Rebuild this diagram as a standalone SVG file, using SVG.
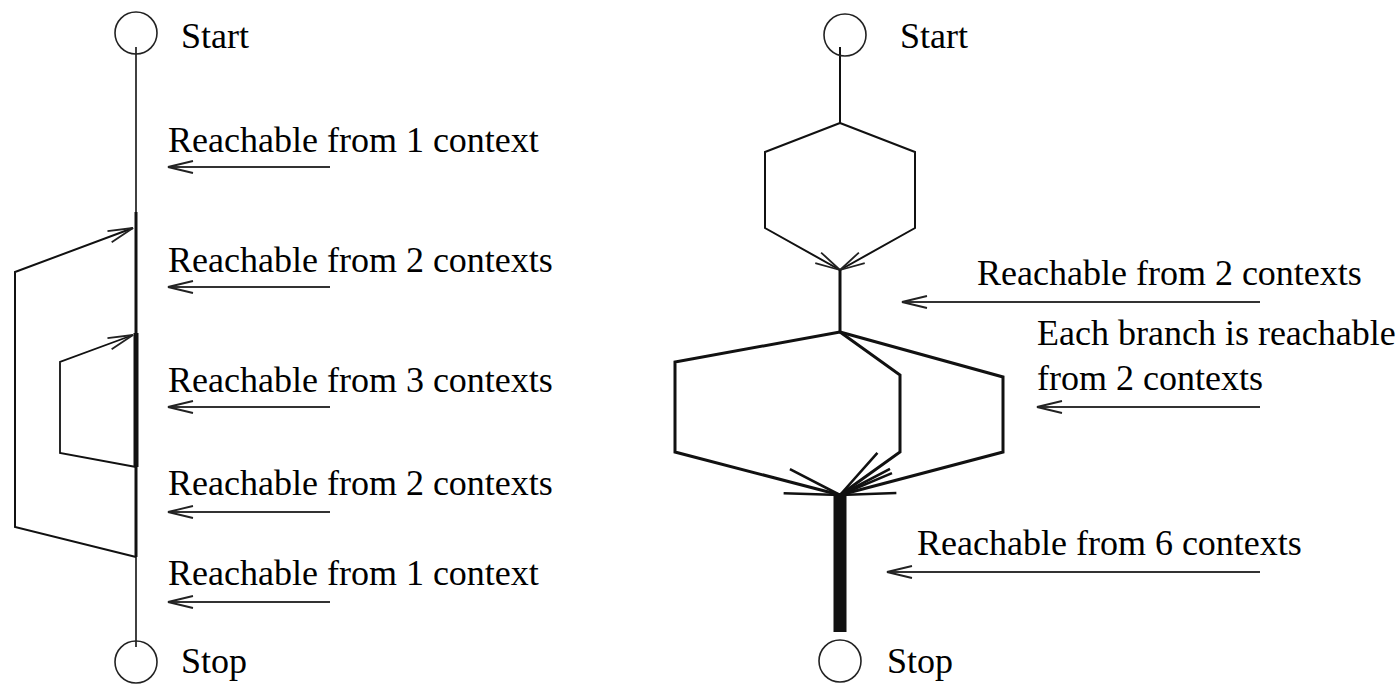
<svg xmlns="http://www.w3.org/2000/svg" width="1400" height="684" viewBox="0 0 1400 684">
<style>
text{font-family:"Liberation Serif","Times New Roman",serif;font-size:36px;fill:#000}
.node{fill:#fff;stroke:#222;stroke-width:1.6}
.ln{fill:none;stroke:#111;stroke-linejoin:miter;stroke-linecap:butt}
.lbl{fill:none;stroke:#333;stroke-width:2}
</style>
<defs>
<marker id="sa" markerUnits="userSpaceOnUse" orient="auto" overflow="visible" markerWidth="1" markerHeight="1" refX="0" refY="0">
<path d="M-25,-6 L0,0 L-25,6" fill="none" stroke="#222" stroke-width="1.8"/>
</marker>
<marker id="la" markerUnits="userSpaceOnUse" orient="auto" overflow="visible" markerWidth="1" markerHeight="1" refX="0" refY="0">
<path d="M-55,-12.5 L0,0 L-55,12.5" fill="none" stroke="#111" stroke-width="2.6"/>
</marker>
</defs>
<rect width="1400" height="684" fill="#fff"/>
<g id="connectors">
<line class="ln" x1="136" y1="47" x2="136" y2="212" stroke-width="1.6"/>
<line class="ln" x1="136" y1="212" x2="136" y2="333" stroke-width="3"/>
<line class="ln" x1="136" y1="333" x2="136" y2="467" stroke-width="5"/>
<line class="ln" x1="136" y1="467" x2="136" y2="557" stroke-width="3"/>
<line class="ln" x1="136" y1="557" x2="136" y2="647" stroke-width="1.6"/>
<polyline class="ln" points="136,557 15,527 15,272 133,228" stroke-width="2" marker-end="url(#sa)"/>
<polyline class="ln" points="136,467 60,453 60,362 133,335" stroke-width="1.8" marker-end="url(#sa)"/>
<line class="lbl" x1="330" y1="167" x2="168" y2="167" marker-end="url(#sa)"/>
<line class="lbl" x1="330" y1="287" x2="168" y2="287" marker-end="url(#sa)"/>
<line class="lbl" x1="330" y1="407" x2="168" y2="407" marker-end="url(#sa)"/>
<line class="lbl" x1="330" y1="512" x2="168" y2="512" marker-end="url(#sa)"/>
<line class="lbl" x1="330" y1="602" x2="168" y2="602" marker-end="url(#sa)"/>
<line class="ln" x1="840" y1="47" x2="840" y2="123" stroke-width="2"/>
<polyline class="ln" points="840,123 765,152 765,228 840,270" stroke-width="2" marker-end="url(#sa)"/>
<polyline class="ln" points="840,123 915,152 915,228 840,270" stroke-width="2" marker-end="url(#sa)"/>
<line class="ln" x1="840" y1="270" x2="840" y2="332" stroke-width="3"/>
<polyline class="ln" points="840,332 675,362 675,452 840,495" stroke-width="3" marker-end="url(#la)"/>
<polyline class="ln" points="840,332 900,375 900,452 840,495" stroke-width="3" marker-end="url(#la)"/>
<polyline class="ln" points="840,332 1003,377 1003,452 840,495" stroke-width="3" marker-end="url(#la)"/>
<line class="ln" x1="840" y1="494" x2="840" y2="632" stroke-width="13"/>
<line class="lbl" x1="1260" y1="302" x2="902" y2="302" marker-end="url(#sa)"/>
<line class="lbl" x1="1260" y1="407" x2="1037" y2="407" marker-end="url(#sa)"/>
<line class="lbl" x1="1260" y1="572" x2="887" y2="572" marker-end="url(#sa)"/>
</g>
<g id="left-start"><circle class="node" cx="136" cy="33" r="21" fill-opacity="0"/><text x="181" y="48">Start</text></g>
<g id="left-stop"><circle class="node" cx="136" cy="662" r="21" fill-opacity="0"/><text x="181" y="673">Stop</text></g>
<g id="right-start"><circle class="node" cx="845" cy="35" r="21" fill-opacity="0"/><text x="900" y="48">Start</text></g>
<g id="right-stop"><circle class="node" cx="840" cy="661" r="21" fill-opacity="0"/><text x="887" y="673">Stop</text></g>
<g id="left-labels">
<text x="168" y="152">Reachable from 1 context</text>
<text x="168" y="272">Reachable from 2 contexts</text>
<text x="168" y="392">Reachable from 3 contexts</text>
<text x="168" y="495">Reachable from 2 contexts</text>
<text x="168" y="585">Reachable from 1 context</text>
</g>
<g id="right-labels">
<text x="977" y="285">Reachable from 2 contexts</text>
<text x="1037" y="345">Each branch is reachable</text>
<text x="1037" y="390">from 2 contexts</text>
<text x="917" y="555">Reachable from 6 contexts</text>
</g>
</svg>
